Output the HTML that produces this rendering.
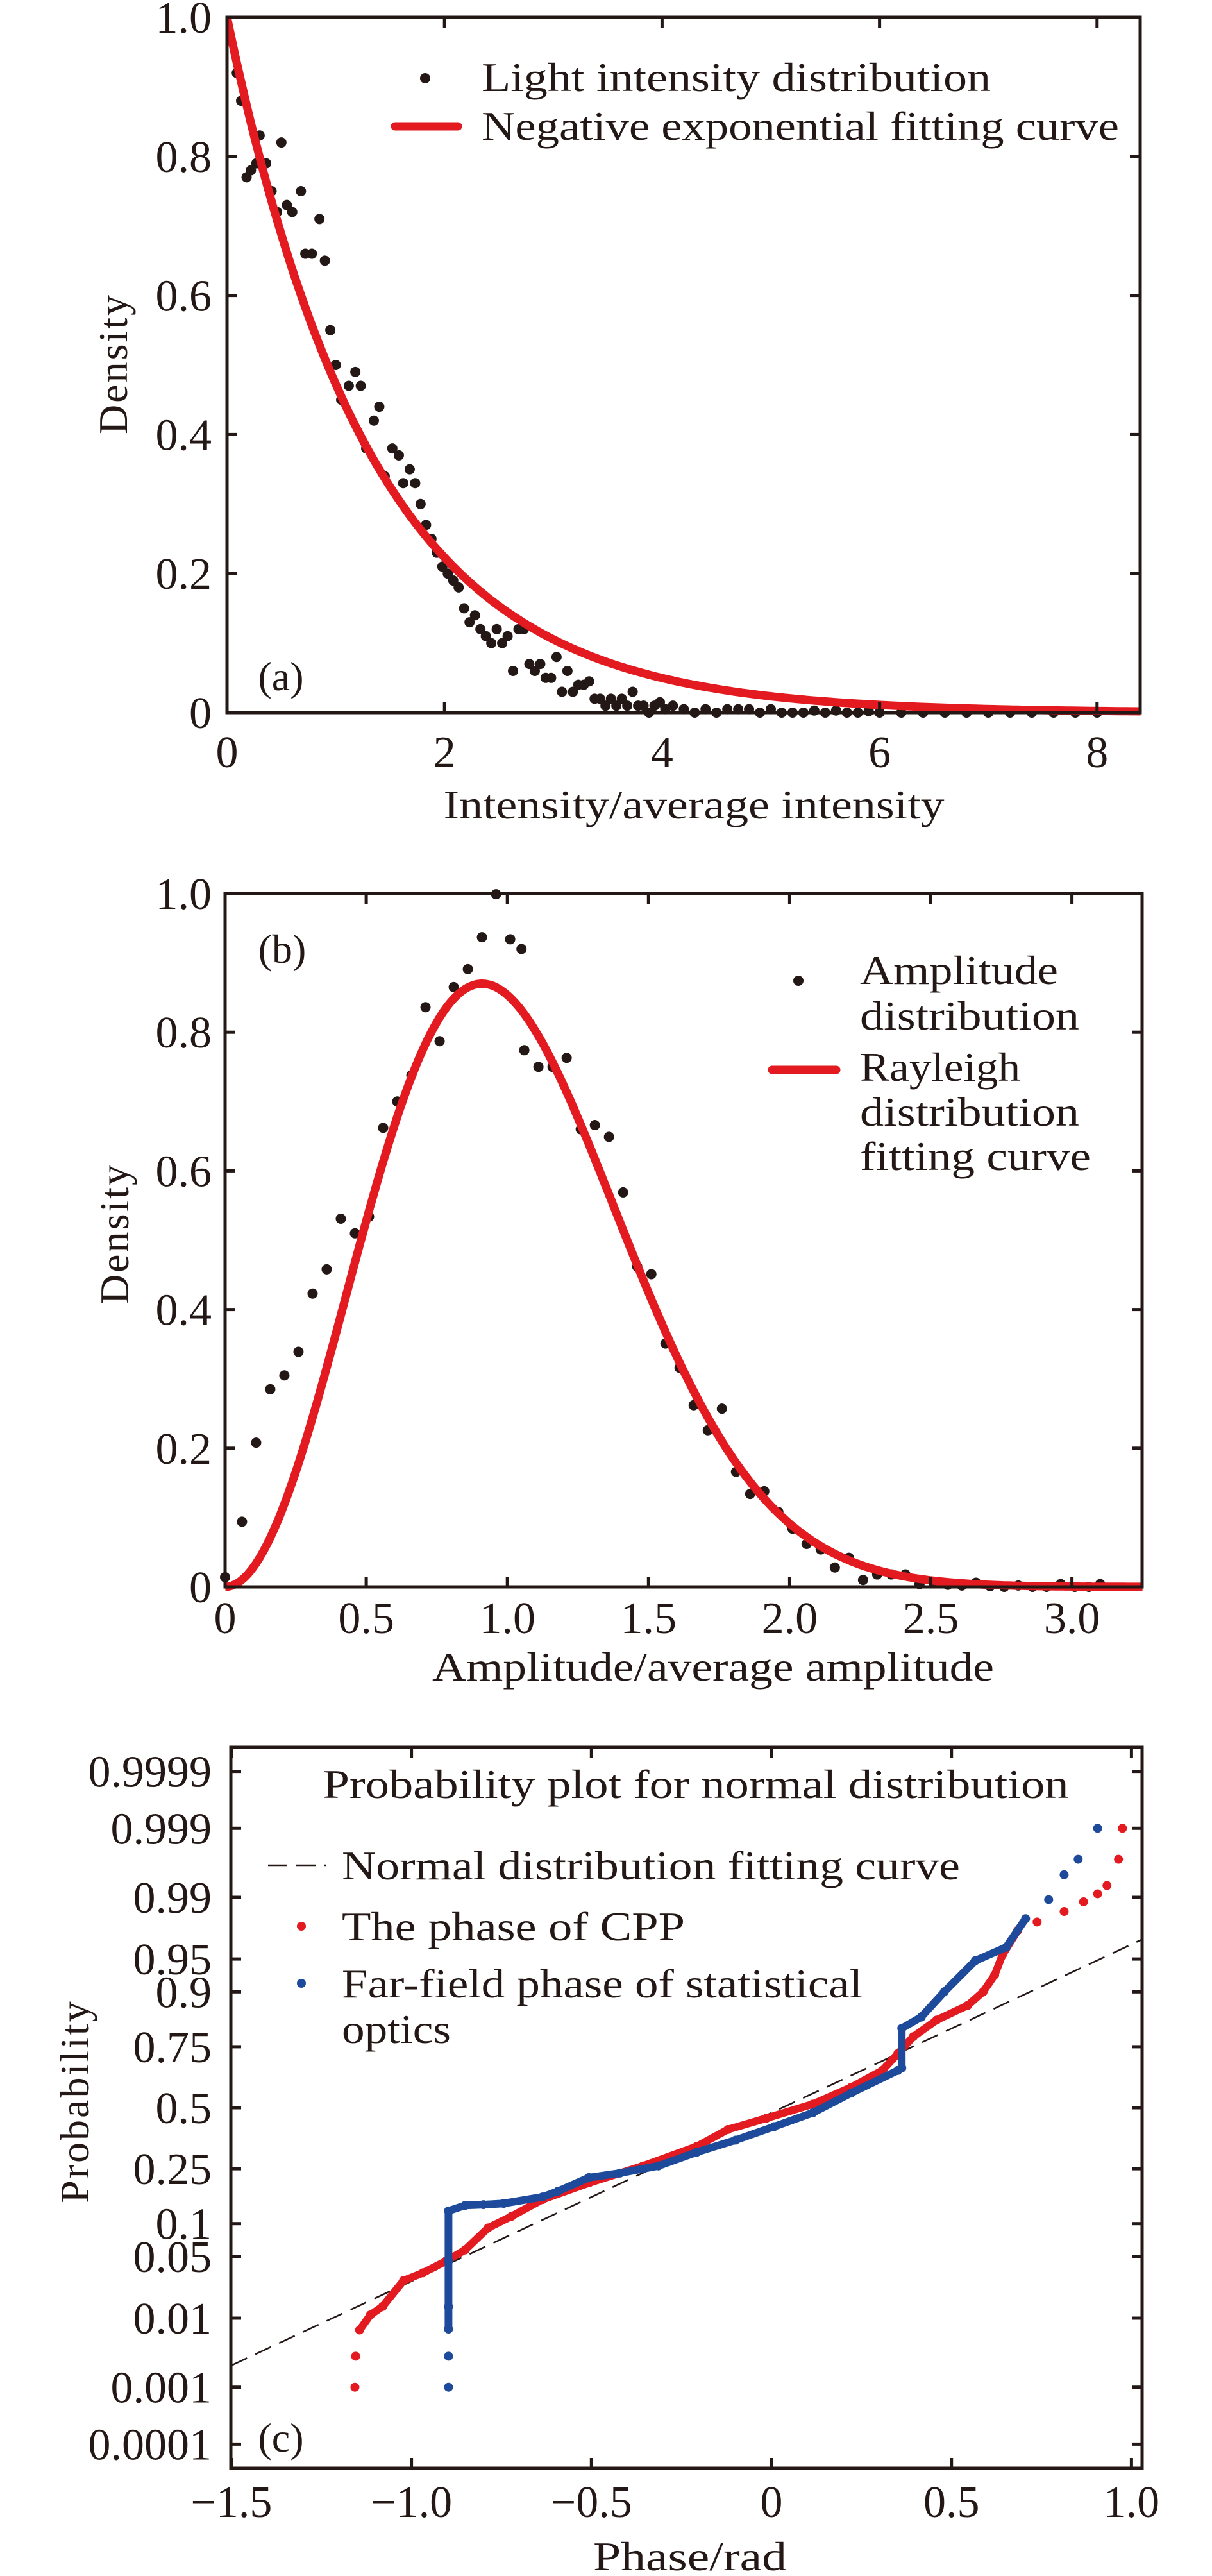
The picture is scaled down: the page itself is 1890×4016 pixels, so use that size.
<!DOCTYPE html>
<html><head><meta charset="utf-8">
<style>
html,body{margin:0;padding:0;background:#fff;}
svg{display:block;}
text{font-family:"Liberation Serif",serif;fill:#231815;}
</style></head>
<body>
<svg id="fig" width="1890" height="4016" viewBox="0 0 1890 4016" xmlns="http://www.w3.org/2000/svg">
<g id="pa"></g>
<g id="pb"></g>
<g id="pc"></g>
</svg>
<script>
// ---------- Panel (a) data ----------
const aX = [0.09,0.13,0.18,0.22,0.27,0.30,0.36,0.41,0.46,0.50,0.55,0.60,0.68,0.72,0.78,0.85,0.90,0.95,1.00,1.05,1.12,1.18,1.23,1.28,1.35,1.40,1.45,1.52,1.58,1.62,1.68,1.73,1.78,1.83,1.88,1.93,1.98,2.03,2.08,2.13,2.18,2.23,2.28,2.33,2.38,2.43,2.48,2.53,2.58,2.63,2.68,2.73,2.78,2.83,2.88,2.93,2.98,3.03,3.08,3.13,3.18,3.23,3.28,3.33,3.38,3.43,3.48,3.53,3.58,3.63,3.68,3.73,3.78,3.83,3.88,3.93,3.98,4.03,4.1,4.2,4.3,4.4,4.5,4.6,4.7,4.8,4.9,5.0,5.1,5.2,5.3,5.4,5.5,5.6,5.7,5.8,5.9,6.0,6.2,6.4,6.6,6.8,7.0,7.2,7.4,7.6,7.8,8.0];
const aY = [0.92,0.88,0.77,0.78,0.79,0.83,0.79,0.75,0.72,0.82,0.73,0.72,0.75,0.66,0.66,0.71,0.65,0.55,0.50,0.45,0.47,0.49,0.47,0.38,0.42,0.44,0.34,0.38,0.37,0.33,0.35,0.33,0.30,0.27,0.25,0.23,0.21,0.20,0.19,0.18,0.15,0.13,0.14,0.12,0.11,0.10,0.12,0.10,0.11,0.06,0.12,0.12,0.07,0.06,0.07,0.05,0.05,0.08,0.03,0.06,0.03,0.04,0.04,0.045,0.02,0.02,0.01,0.02,0.01,0.02,0.01,0.03,0.01,0.01,0.0,0.01,0.015,0.005,0.01,0.005,0.0,0.005,0.0,0.005,0.005,0.005,0.0,0.005,0.0,0.0,0.0,0.003,0.0,0.003,0.0,0.0,0.002,0.0,0.0,0.0,0.0,0.0,0.0,0.0,0.0,0.0,0.0,0.0];
const aFitRate = [0.75];
const aXTicks = [0,2,4,6,8];
const aYTicks = [0,0.2,0.4,0.6,0.8,1.0];
const aYTickLabels = ["0","0.2","0.4","0.6","0.8","1.0"];

// ---------- Panel (b) data ----------
const bX = [0.0,0.06,0.11,0.16,0.21,0.26,0.31,0.36,0.41,0.46,0.51,0.56,0.61,0.66,0.71,0.76,0.81,0.86,0.91,0.96,1.01,1.05,1.06,1.11,1.16,1.21,1.26,1.31,1.36,1.41,1.46,1.51,1.56,1.61,1.66,1.71,1.76,1.81,1.86,1.91,1.96,2.01,2.06,2.11,2.16,2.21,2.26,2.31,2.36,2.41,2.46,2.51,2.56,2.61,2.66,2.71,2.76,2.81,2.86,2.91,2.96,3.01,3.06,3.1];
const bY = [0.014,0.094,0.208,0.285,0.305,0.339,0.423,0.458,0.531,0.51,0.534,0.662,0.70,0.738,0.836,0.787,0.865,0.891,0.937,0.999,0.934,0.92,0.774,0.75,0.75,0.763,0.66,0.666,0.649,0.569,0.462,0.451,0.351,0.316,0.262,0.226,0.257,0.166,0.134,0.138,0.108,0.084,0.062,0.054,0.028,0.042,0.01,0.018,0.018,0.018,0.004,0.007,0.003,0.002,0.006,0.001,0.0,0.002,0.0,0.0,0.004,0.0,0.0,0.004];
const bFitPeakX = [0.91];
const bFitPeakY = [0.87];
const bXTicks = [0,0.5,1.0,1.5,2.0,2.5,3.0];
const bXTickLabels = ["0","0.5","1.0","1.5","2.0","2.5","3.0"];
const bYTicks = [0,0.2,0.4,0.6,0.8,1.0];
const bYTickLabels = ["0","0.2","0.4","0.6","0.8","1.0"];

// ---------- Panel (c) data ----------
const cRedPhase = [-1.144,-1.114,-1.080,-1.022,-0.968,-0.904,-0.851,-0.787,-0.722,-0.636,-0.507,-0.357,-0.207,-0.121,-0.014,0.115,0.222,0.308,0.351,0.394,0.459,0.545,0.588,0.620,0.641,0.684];
const cRedProb  = [0.007,0.011,0.014,0.028,0.034,0.045,0.058,0.092,0.115,0.155,0.203,0.26,0.335,0.405,0.454,0.516,0.59,0.66,0.725,0.784,0.834,0.871,0.90,0.929,0.954,0.975];
const cRedTailPhase = [-1.157,-1.155,0.738,0.813,0.867,0.906,0.932,0.964,0.975];
const cRedTailProb  = [0.001,0.003,0.980,0.985,0.9886,0.991,0.993,0.997,0.999];
const cBluePhase = [-0.897,-0.897,-0.897,-0.897,-0.851,-0.800,-0.744,-0.636,-0.593,-0.507,-0.421,-0.314,-0.207,-0.100,0.007,0.115,0.222,0.351,0.362,0.362,0.416,0.480,0.566,0.652,0.706];
const cBlueProb  = [0.0072,0.014,0.045,0.127,0.14,0.142,0.145,0.162,0.178,0.22,0.235,0.26,0.312,0.36,0.417,0.478,0.565,0.66,0.67,0.81,0.842,0.90,0.948,0.962,0.9817];
const cBlueTailPhase = [-0.897,-0.897,0.770,0.813,0.852,0.906];
const cBlueTailProb  = [0.001,0.003,0.9893,0.995,0.997,0.999];
const cFitMean = [0.03];
const cFitSigma = [0.537];
const cXTicks = [-1.5,-1.0,-0.5,0,0.5,1.0];
const cXTickLabels = ["\u22121.5","\u22121.0","\u22120.5","0","0.5","1.0"];
const cYTicks = [0.0001,0.001,0.01,0.05,0.1,0.25,0.5,0.75,0.9,0.95,0.99,0.999,0.9999];
const cYTickLabels = ["0.0001","0.001","0.01","0.05","0.1","0.25","0.5","0.75","0.9","0.95","0.99","0.999","0.9999"];

const NS = "http://www.w3.org/2000/svg";
const RED = "#e31a1f", BLUE = "#1e4a9c", INK = "#231815";
const FS = 64;
const TFS = 70;
function mk(tag, attrs, parent) {
  const e = document.createElementNS(NS, tag);
  for (const k in attrs) e.setAttribute(k, attrs[k]);
  parent.appendChild(e);
  return e;
}
function txt(parent, s, x, y, size, anchor, extra) {
  const t = mk("text", {x: x, y: y, "font-size": size, "text-anchor": anchor || "start"}, parent);
  if (extra) for (const k in extra) t.setAttribute(k, extra[k]);
  t.textContent = s;
  return t;
}
function qnorm(p) {
  const a=[-39.69683028665376,220.9460984245205,-275.9285104469687,138.3577518672690,-30.66479806614716,2.506628277459239];
  const b=[-54.47609879822406,161.5858368580409,-155.6989798598866,66.80131188771972,-13.28068155288572];
  const c=[-0.007784894002430293,-0.3223964580411365,-2.400758277161838,-2.549732539343734,4.374664141464968,2.938163982698783];
  const d=[0.007784695709041462,0.3224671290700398,2.445134137142996,3.754408661907416];
  const pl=0.02425;
  let q,r;
  if (p<pl){q=Math.sqrt(-2*Math.log(p));return (((((c[0]*q+c[1])*q+c[2])*q+c[3])*q+c[4])*q+c[5])/((((d[0]*q+d[1])*q+d[2])*q+d[3])*q+1);}
  if (p>1-pl){q=Math.sqrt(-2*Math.log(1-p));return -(((((c[0]*q+c[1])*q+c[2])*q+c[3])*q+c[4])*q+c[5])/((((d[0]*q+d[1])*q+d[2])*q+d[3])*q+1);}
  q=p-0.5;r=q*q;
  return (((((a[0]*r+a[1])*r+a[2])*r+a[3])*r+a[4])*r+a[5])*q/(((((b[0]*r+b[1])*r+b[2])*r+b[3])*r+b[4])*r+1);
}

function frame(g, L, T, R, B, xs, ys, xTicks, xLabels, yTicks, yLabels, xLabY, yLabX) {
  const axes = mk("g", {}, g);
  
  
  xTicks.forEach((v, i) => {
    const x = xs(v);
    const t1 = mk("line", {x1:x, y1:B, x2:x, y2:B-16, stroke:INK, "stroke-width":5}, axes);
    
    
    const t2 = mk("line", {x1:x, y1:T, x2:x, y2:T+16, stroke:INK, "stroke-width":5}, axes);
    
    
    const lb = txt(axes, xLabels[i], x, xLabY + 3, TFS, "middle");
    
    
  });
  yTicks.forEach((v, i) => {
    const y = ys(v);
    const t1 = mk("line", {x1:L, y1:y, x2:L+16, y2:y, stroke:INK, "stroke-width":5}, axes);
    
    
    const t2 = mk("line", {x1:R, y1:y, x2:R-16, y2:y, stroke:INK, "stroke-width":5}, axes);
    
    
    const lb = txt(axes, yLabels[i], yLabX, y + 24, TFS, "end");
    
    
  });
  const box = mk("rect", {x:L, y:T, width:R-L, height:B-T, fill:"none", stroke:INK, "stroke-width":5}, axes);
  
  
}

// ================= Panel (a) =================
(function(){
  const g = document.getElementById("pa");
  const L=354, R=1778, T=27, B=1111;
  const xs = v => L + v*169.6;
  const ys = v => B - v*(B-T);
  const clip = mk("clipPath", {id:"clipA"}, g);
  mk("rect", {x:L, y:T-10, width:R-L+10, height:B-T+20}, clip);
  const dots = mk("g", {"clip-path":"url(#clipA)"}, g);
  
  
  aX.forEach((x, i) => {
    const c = mk("circle", {cx:xs(x), cy:ys(aY[i]), r:8, fill:INK}, dots);
    
    
  });
  let d = "";
  for (let k = 0; k <= 200; k++) {
    const x = 8.4 * k / 200;
    d += (k ? "L" : "M") + xs(x).toFixed(1) + "," + ys(Math.exp(-aFitRate[0]*x)).toFixed(1);
  }
  const p = mk("path", {d:d, fill:"none", stroke:RED, "stroke-width":13, "stroke-linejoin":"round", "clip-path":"url(#clipA)"}, g);
  
  
  frame(g, L, T, R, B, xs, ys, aXTicks, aXTicks.map(String), aYTicks, aYTickLabels, 1193, 330);
  const yl = txt(g, "Density", 198, 567, FS, "middle", {transform:"rotate(-90 198 567)", "letter-spacing":"3"});
  
  
  const xl = txt(g, "Intensity/average intensity", 1082, 1276, FS, "middle", {textLength:781, lengthAdjust:"spacingAndGlyphs"});
  
  
  const pl = txt(g, "(a)", 438, 1076, FS, "middle");
  
  
  const lg = mk("g", {}, g);
  
  
  const ld = mk("circle", {cx:663, cy:122, r:8, fill:INK}, lg);
  
  
  const lt1 = txt(lg, "Light intensity distribution", 751, 142, FS, "start", {textLength:794, lengthAdjust:"spacingAndGlyphs"});
  
  
  const ll = mk("line", {x1:616, y1:197, x2:714, y2:197, stroke:RED, "stroke-width":13, "stroke-linecap":"round"}, lg);
  
  
  const lt2 = txt(lg, "Negative exponential fitting curve", 751, 218, FS, "start", {textLength:994, lengthAdjust:"spacingAndGlyphs"});
  
  
})();

// ================= Panel (b) =================
(function(){
  const g = document.getElementById("pb");
  const L=351, R=1781, T=1393, B=2474;
  const xs = v => L + v*440.2;
  const ys = v => B - v*(B-T);
  const dots = mk("g", {}, g);
  
  
  bX.forEach((x, i) => {
    const c = mk("circle", {cx:xs(x), cy:ys(bY[i]), r:8, fill:INK}, dots);
    
    
  });
  let d = "";
  const s = bFitPeakX[0];
  for (let k = 0; k <= 240; k++) {
    const x = 3.25 * k / 240;
    const u = (x/s)*(x/s);
    const y = bFitPeakY[0] * u * Math.exp(1 - u);
    d += (k ? "L" : "M") + xs(x).toFixed(1) + "," + ys(y).toFixed(1);
  }
  const p = mk("path", {d:d, fill:"none", stroke:RED, "stroke-width":13, "stroke-linejoin":"round"}, g);
  
  
  frame(g, L, T, R, B, xs, ys, bXTicks, bXTickLabels, bYTicks, bYTickLabels, 2543, 330);
  const yl = txt(g, "Density", 200, 1923, FS, "middle", {transform:"rotate(-90 200 1923)", "letter-spacing":"3"});
  
  
  const xl = txt(g, "Amplitude/average amplitude", 1112, 2620, FS, "middle", {textLength:876, lengthAdjust:"spacingAndGlyphs"});
  
  
  const pl = txt(g, "(b)", 440, 1501, FS, "middle");
  
  
  const lg = mk("g", {}, g);
  
  
  const ld = mk("circle", {cx:1245, cy:1529, r:8, fill:INK}, lg);
  
  
  [["Amplitude",1534,309],["distribution",1605,342]].forEach(a => {
    const t = txt(lg, a[0], 1341, a[1], FS, "start", {textLength:a[2], lengthAdjust:"spacingAndGlyphs"});
    
    
  });
  const ll = mk("line", {x1:1204, y1:1668, x2:1304, y2:1668, stroke:RED, "stroke-width":13, "stroke-linecap":"round"}, lg);
  
  
  [["Rayleigh",1685,250],["distribution",1755,342],["fitting curve",1824,360]].forEach(a => {
    const t = txt(lg, a[0], 1341, a[1], FS, "start", {textLength:a[2], lengthAdjust:"spacingAndGlyphs"});
    
    
  });
})();

// ================= Panel (c) =================
(function(){
  const g = document.getElementById("pc");
  const L=360, R=1781, T=2724, B=3848;
  const xs = v => 1203 + v*561.4;
  const ys = p => 3286 - 141*qnorm(p);
  const z0 = (-1.5 - cFitMean[0]) / cFitSigma[0];
  const z1 = (1.03 - cFitMean[0]) / cFitSigma[0];
  const fl = mk("line", {x1:xs(-1.5), y1:3286-141*z0, x2:xs(1.03), y2:3286-141*z1, stroke:INK, "stroke-width":2.6, "stroke-dasharray":"27 14"}, g);
  
  
  function series(phase, prob, tailPhase, tailProb, color, name) {
    const sg = mk("g", {}, g);
    
    
    let d = "";
    phase.forEach((ph, i) => { d += (i ? "L" : "M") + xs(ph).toFixed(1) + "," + ys(prob[i]).toFixed(1); });
    const pl = mk("path", {d:d, fill:"none", stroke:color, "stroke-width":12, "stroke-linecap":"round", "stroke-linejoin":"round"}, sg);
    
    
    phase.forEach((ph, i) => {
      const c = mk("circle", {cx:xs(ph), cy:ys(prob[i]), r:7, fill:color}, sg);
      
      
    });
    tailPhase.forEach((ph, i) => {
      const c = mk("circle", {cx:xs(ph), cy:ys(tailProb[i]), r:7, fill:color}, sg);
      
      
    });
  }
  series(cRedPhase, cRedProb, cRedTailPhase, cRedTailProb, RED, "cpp-phase");
  series(cBluePhase, cBlueProb, cBlueTailPhase, cBlueTailProb, BLUE, "far-field-phase");
  frame(g, L, T, R, B, xs, ys, cXTicks, cXTickLabels, cYTicks, cYTickLabels, 3921, 330);
  const yl = txt(g, "Probability", 138, 3276, FS, "middle", {transform:"rotate(-90 138 3276)", "letter-spacing":"3"});
  
  
  const xl = txt(g, "Phase/rad", 1076, 4007, FS, "middle", {textLength:302, lengthAdjust:"spacingAndGlyphs"});
  
  
  const pl = txt(g, "(c)", 438, 3822, FS, "middle");
  
  
  const tt = txt(g, "Probability plot for normal distribution", 1085, 2803, FS, "middle", {textLength:1163, lengthAdjust:"spacingAndGlyphs"});
  
  
  const lg = mk("g", {}, g);
  
  
  const ld = mk("line", {x1:418, y1:2908, x2:509, y2:2908, stroke:INK, "stroke-width":2.6, "stroke-dasharray":"30 14"}, lg);
  
  
  const t1 = txt(lg, "Normal distribution fitting curve", 533, 2930, FS, "start", {textLength:964, lengthAdjust:"spacingAndGlyphs"});
  
  
  const rd = mk("circle", {cx:470, cy:3003, r:7, fill:RED}, lg);
  
  
  const t2 = txt(lg, "The phase of CPP", 533, 3025, FS, "start", {textLength:535, lengthAdjust:"spacingAndGlyphs"});
  
  
  const bd = mk("circle", {cx:470, cy:3092, r:7, fill:BLUE}, lg);
  
  
  const t3 = txt(lg, "Far-field phase of statistical", 533, 3114, FS, "start", {textLength:812, lengthAdjust:"spacingAndGlyphs"});
  
  
  const t4 = txt(lg, "optics", 533, 3185, FS, "start", {textLength:170, lengthAdjust:"spacingAndGlyphs"});
  
  
})();
</script>
</body></html>
